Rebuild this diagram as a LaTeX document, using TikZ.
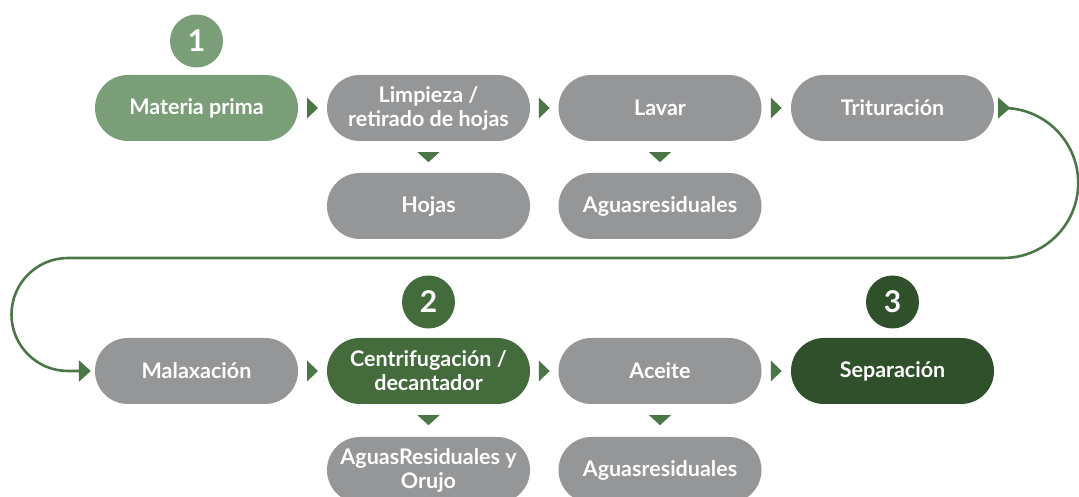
\documentclass[tikz,border=0pt]{standalone}
\usepackage{fontspec}
\setmainfont{Lato}
\usetikzlibrary{arrows.meta,calc}
\definecolor{lgreen}{HTML}{7A9E78}
\definecolor{mgreen}{HTML}{436B3C}
\definecolor{dgreen}{HTML}{30502C}
\definecolor{boxgrey}{HTML}{959698}
\definecolor{arrgreen}{HTML}{4A7745}
\begin{document}
\begin{tikzpicture}[x=1pt,y=1pt,
  box/.style={rectangle, rounded corners=32.9pt, minimum width=203pt, minimum height=66pt,
    inner sep=0pt, text=white, font=\fontsize{21.5}{24}\selectfont\bfseries, align=center},
  greybox/.style={box, fill=boxgrey},
  num/.style={circle, minimum size=53pt, inner sep=0pt, text=white,
    font=\fontsize{30}{31}\selectfont\bfseries},
  rtri/.style={fill=arrgreen},
  dtri/.style={fill=arrgreen},
  flowline/.style={draw=arrgreen, line width=2.6pt, -{Triangle[length=12pt,width=21pt]}}
]
\useasboundingbox (0,0) rectangle (1079,497);
% row 1
\node[box, fill=lgreen] (mat) at (196.5,389) {Materia prima};
\node[greybox] (limp) at (428.5,389) {Limpieza /\\retirado de hojas};
\node[greybox] (lav) at (660,389) {Lavar};
\node[greybox] (trit) at (892.5,389) {Trituración};
\node[num, fill=lgreen] (n1) at (196.5,456) {1};
% row 2
\node[greybox] (hoj) at (428.5,291) {Hojas};
\node[greybox] (ag1) at (660,291) {Aguasresiduales};
% row 3
\node[greybox] (mal) at (196.5,126) {Malaxación};
\node[box, fill=mgreen] (cen) at (428.5,126) {Centrifugación /\\decantador};
\node[greybox] (ace) at (660,126) {Aceite};
\node[box, fill=dgreen] (sep) at (892.5,126) {Separación};
\node[num, fill=mgreen] (n2) at (428.5,195) {2};
\node[num, fill=dgreen] (n3) at (892.5,195) {3};
% row 4
\node[greybox] (agor) at (428.5,27) {AguasResiduales y\\Orujo};
\node[greybox] (ag2) at (660,27) {Aguasresiduales};
% right-pointing triangles between boxes
\foreach \a/\b in {mat/limp, limp/lav, lav/trit, mal/cen, cen/ace, ace/sep}{
  \fill[rtri] ($(\a.east)!0.5!(\b.west)$) +(-5.5,10.5) -- +(5.5,0) -- +(-5.5,-10.5) -- cycle;
}
% down-pointing triangles
\foreach \a in {limp, lav, cen, ace}{
  \fill[dtri] (\a.south) +(-11,-11) -- +(11,-11) -- +(0,-21) -- cycle;
}
% loop connector
\fill[rtri] (trit.east) +(4,10.5) -- +(16,0) -- +(4,-10.5) -- cycle;
\coordinate (startR) at ($(trit.east)+(9,0)$);
\coordinate (turnL) at (68,239);
\draw[flowline] (startR) arc[start angle=90, end angle=-90, radius=75]
  -- (turnL) arc[start angle=90, end angle=270, radius=56.5] -- ([xshift=-4pt]mal.west);
\end{tikzpicture}
\end{document}
